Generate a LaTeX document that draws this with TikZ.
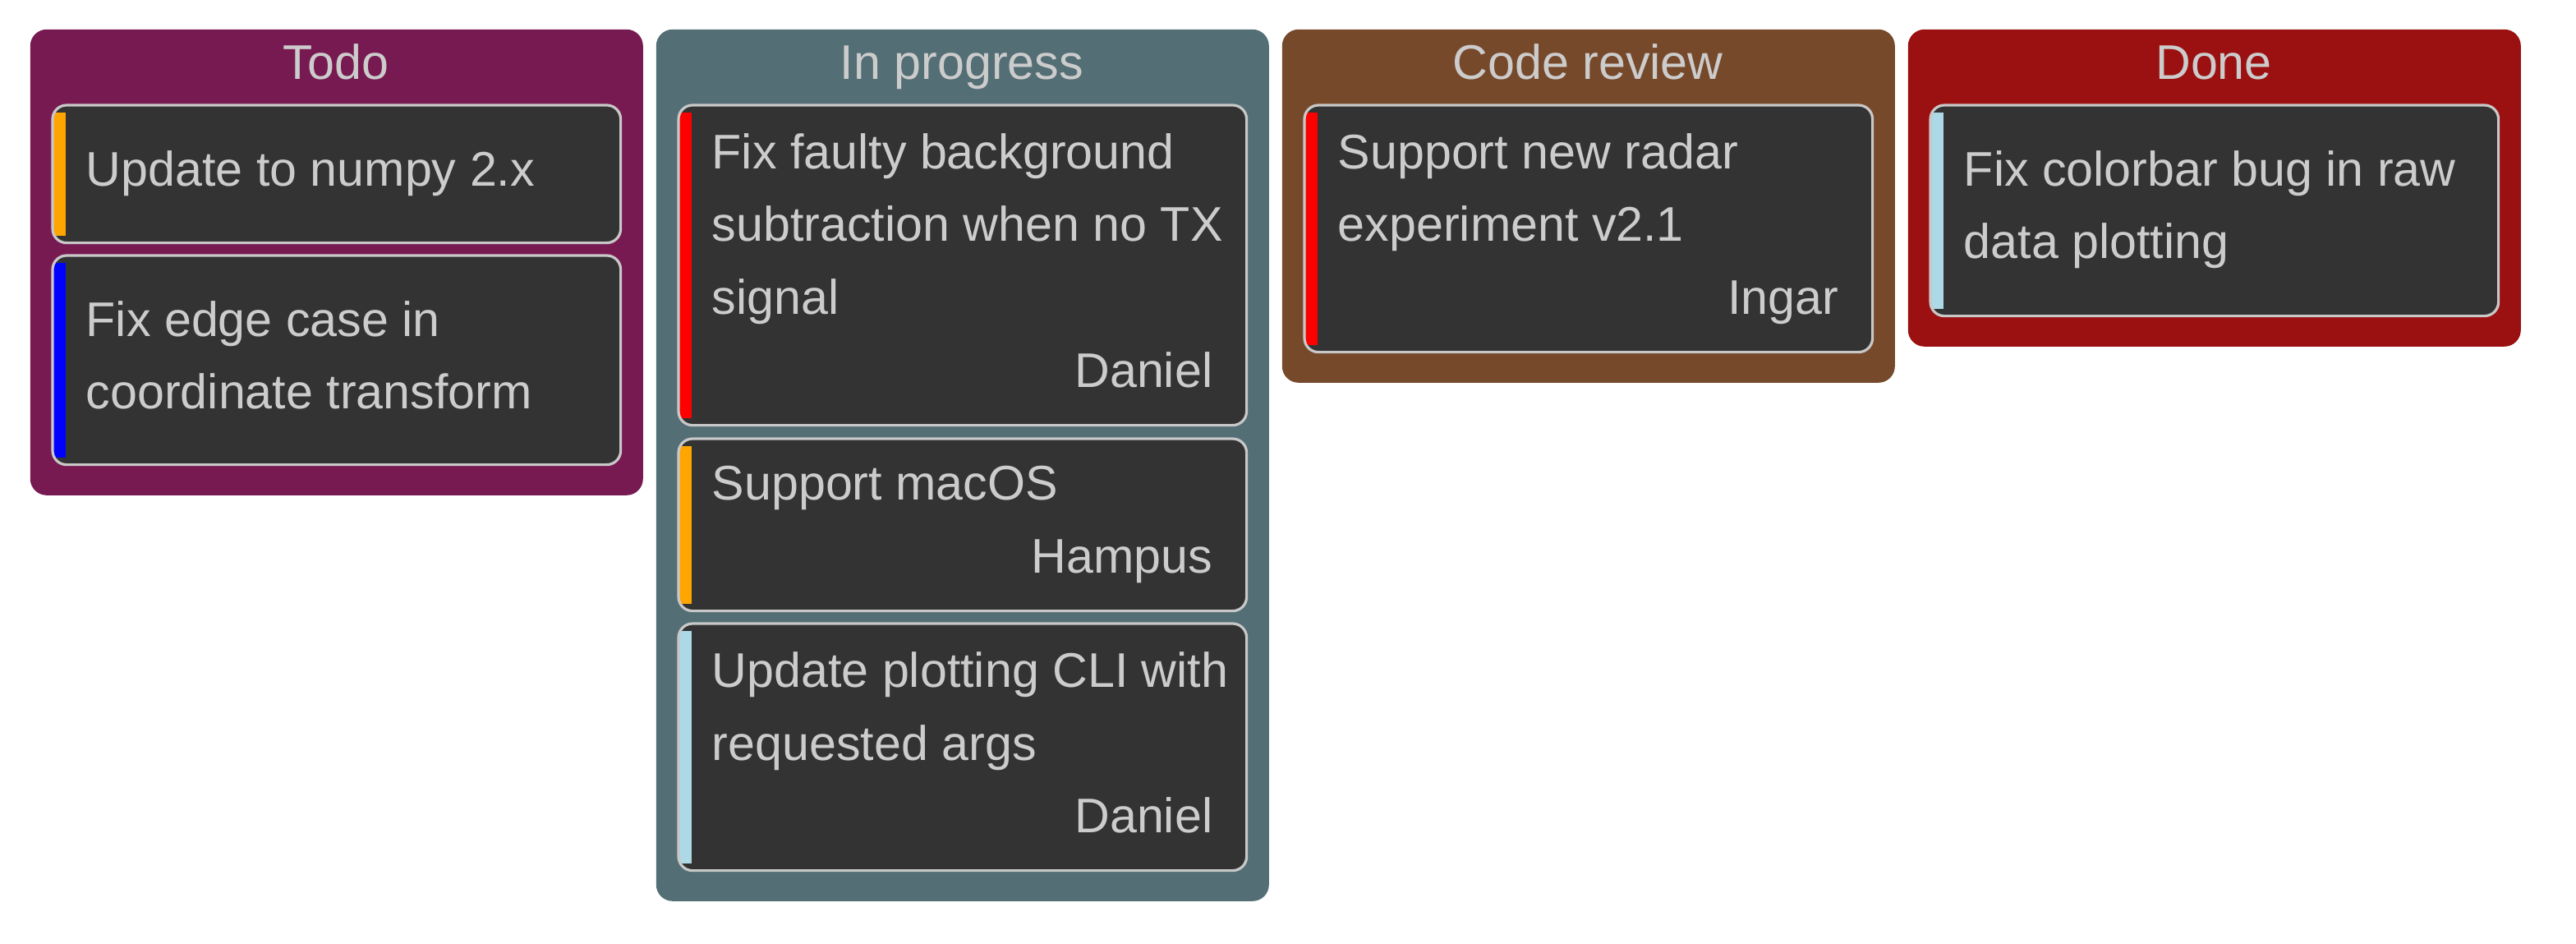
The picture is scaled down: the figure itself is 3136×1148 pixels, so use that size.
\documentclass[tikz,border=0pt]{standalone}
\usepackage{fontspec}
\setmainfont{Liberation Sans}
\definecolor{todoC}{HTML}{781A52}
\definecolor{progC}{HTML}{546E75}
\definecolor{revC}{HTML}{77492B}
\definecolor{doneC}{HTML}{9B1010}
\definecolor{cardbg}{HTML}{333333}
\definecolor{cardline}{HTML}{C8C8C8}
\definecolor{txtc}{HTML}{CCCCCC}
\definecolor{stOrange}{HTML}{FFA500}
\definecolor{stBlue}{HTML}{0000FF}
\definecolor{stRed}{HTML}{FF0000}
\definecolor{stLight}{HTML}{ADD8E6}
\tikzset{
  column/.style={fill=#1, rounded corners=5pt, anchor=north west, minimum width=186.5pt, inner sep=0pt, draw=none},
  cardbox/.style={fill=cardbg, rounded corners=4.25pt, anchor=north west, minimum width=172.5pt, inner sep=0pt, draw=none},
  cardedge/.style={draw=cardline, line width=0.8pt, rounded corners=4.25pt},
  txt/.style={anchor=base west, inner sep=0pt, text=txtc, font=\fontsize{14.8pt}{22pt}\selectfont},
  author/.style={anchor=base east, inner sep=0pt, text=txtc, font=\fontsize{14.8pt}{22pt}\selectfont},
  coltitle/.style={anchor=base, inner sep=0pt, text=txtc, font=\fontsize{14.8pt}{22pt}\selectfont},
}
\newcommand\kcard[5]{%
  \node[cardbox, minimum height={(#4-#3)*0.25pt}] (#1) at (#2,#3) {};
  \begin{scope}
    \clip[rounded corners=4.25pt] (#1.north west) rectangle (#1.south east);
    \fill[#5] ([yshift=-2.25pt]#1.north west) rectangle ([xshift=4pt,yshift=2.25pt]#1.south west);
  \end{scope}
  \draw[cardedge] (#1.north west) rectangle (#1.south east);
}
\begin{document}
\begin{tikzpicture}[x=0.25pt,y=-0.25pt]
\useasboundingbox[fill=white] (0,0) rectangle (3136,1148);
% columns
\node[column=todoC, minimum height={(602-35)*0.25pt}] (colTodo) at (36,35) {};
\node[column=progC, minimum height={(1096-35)*0.25pt}] (colProg) at (798,35) {};
\node[column=revC, minimum height={(465-35)*0.25pt}] (colRev) at (1560,35) {};
\node[column=doneC, minimum height={(421-35)*0.25pt}] (colDone) at (2322,35) {};
% titles
\node[coltitle] (tTodo) at (409,96) {Todo};
\node[coltitle] (tProg) at (1171,96) {In progress};
\node[coltitle] (tRev) at (1933,96) {Code review};
\node[coltitle] (tDone) at (2695,96) {Done};
% Todo cards
\kcard{todoA}{64}{128}{294}{stOrange}
\node[txt] (todoAt1) at (104,226) {Update to numpy 2.x};
\kcard{todoB}{64}{311}{564}{stBlue}
\node[txt] (todoBt1) at (104,409) {Fix edge case in};
\node[txt] (todoBt2) at (104,497) {coordinate transform};
% In progress cards
\kcard{progA}{826}{128}{516}{stRed}
\node[txt] (progAt1) at (866,205) {Fix faulty background};
\node[txt] (progAt2) at (866,293) {subtraction when no TX};
\node[txt] (progAt3) at (866,382) {signal};
\node[author] (progAa) at (1477,471) {Daniel};
\kcard{progB}{826}{534}{742}{stOrange}
\node[txt] (progBt1) at (866,608) {Support macOS};
\node[author] (progBa) at (1477,697) {Hampus};
\kcard{progC}{826}{759}{1058}{stLight}
\node[txt] (progCt1) at (866,836) {Update plotting CLI with};
\node[txt] (progCt2) at (866,925) {requested args};
\node[author] (progCa) at (1477,1013) {Daniel};
% Code review card
\kcard{revA}{1588}{128}{427}{stRed}
\node[txt] (revAt1) at (1628,205) {Support new radar};
\node[txt] (revAt2) at (1628,293) {experiment v2.1};
\node[author] (revAa) at (2239,382) {Ingar};
% Done card
\kcard{doneA}{2350}{128}{383}{stLight}
\node[txt] (doneAt1) at (2390,226) {Fix colorbar bug in raw};
\node[txt] (doneAt2) at (2390,314) {data plotting};
\end{tikzpicture}
\end{document}
